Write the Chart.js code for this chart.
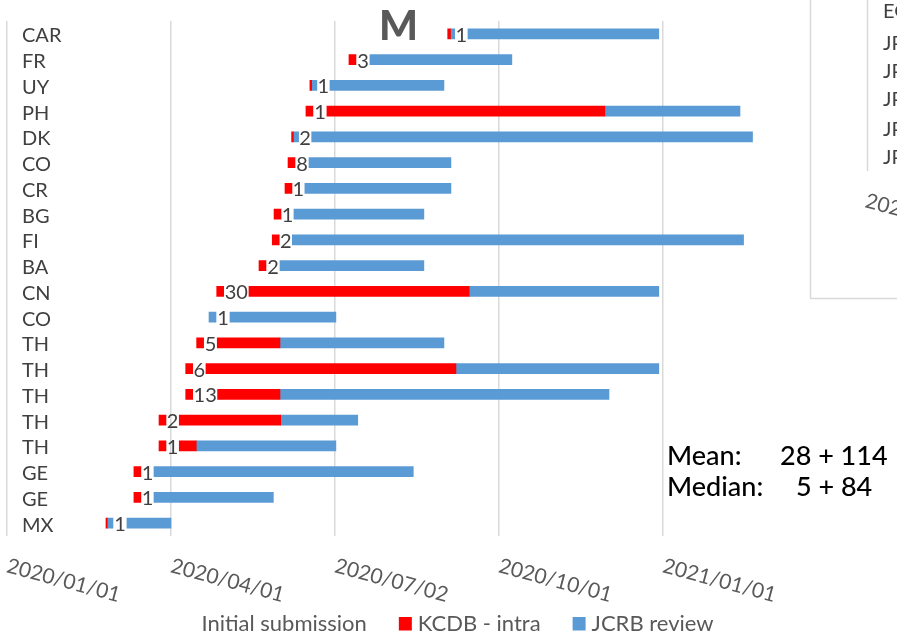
<!DOCTYPE html>
<html>
<head>
<meta charset="utf-8">
<script src="https://cdn.jsdelivr.net/npm/chart.js@4/dist/chart.umd.min.js"></script>
<style>
  html, body { margin: 0; padding: 0; background: #ffffff; overflow: hidden; }
  #wrap { position: relative; width: 897px; height: 641px; }
</style>
</head>
<body>
<div id="wrap"><canvas id="c" width="897" height="641"></canvas></div>
<script>
// ---- DATA (all dates are in days since 2020/01/01) ----
const categories = ['CAR','FR','UY','PH','DK','CO','CR','BG','FI','BA','CN','CO','TH','TH','TH','TH','TH','GE','GE','MX'];
const counts     = [1, 3, 1, 1, 2, 8, 1, 1, 2, 2, 30, 1, 5, 6, 13, 2, 1, 1, 1, 1];
const submitted  = [246.2, 191.1, 169.3, 167.1, 159.1, 157.1, 155.4, 149.3, 148.3, 140.9, 117.3, 113.0, 106.1, 100.0, 100.0, 85.1, 85.1, 71.1, 71.1, 55.5];
const keyRedShare = [0.4, 1, 0.25, 1, 0.25, 1, 1, 1, 1, 1, 1, 0, 1, 1, 1, 1, 1, 1, 1, 0.18];
const kcdbStart  = [257.5, 202.8, 180.5, 178.8, 170.3, 168.8, 166.5, 160.4, 159.5, 152.6, 135.3, 124.7, 117.6, 111.3, 117.8, 96.4, 96.4, 82.3, 82.3, 67.2];
const kcdbEnd    = [257.5, 202.8, 180.5, 333.9, 170.3, 168.8, 166.5, 160.4, 159.5, 152.6, 258.2, 124.7, 152.6, 250.8, 152.6, 153.0, 105.9, 82.3, 82.3, 67.2];
const jcrbEnd    = [364.0, 282.0, 244.1, 409.3, 416.3, 248.0, 248.0, 232.9, 411.3, 232.9, 364.0, 183.8, 244.1, 364.0, 336.2, 196.0, 183.8, 227.0, 148.9, 91.8];
const tickValues = [0, 91.5, 183, 274.5, 366];
const tickLabels = ['2020/01/01', '2020/04/01', '2020/07/02', '2020/10/01', '2021/01/01'];
const seriesNames = ['Initial submission', 'KCDB - intra', 'JCRB review'];
const statsLines = [['Mean:', '28 + 114'], ['Median:', '5 + 84']];
const titleText = 'M';
const sideLabels = ['EG', 'JP', 'JP', 'JP', 'JP', 'JP'];
const sideTick = '2020/01/01';

// ---- STYLE ----
const RED = '#FF0000', BLUE = '#5B9BD5', GRID = '#D9D9D9';
const FONT = 'Lato, "Open Sans", sans-serif';
const KEY_DAYS = 3.9;

const initialData = categories.map((c, i) => [submitted[i], kcdbStart[i]]);
const kcdbData = categories.map((c, i) => kcdbEnd[i] > kcdbStart[i] ? [kcdbStart[i], kcdbEnd[i]] : null);
const jcrbData = categories.map((c, i) => [kcdbEnd[i], jcrbEnd[i]]);
const keyRedData = categories.map((c, i) => keyRedShare[i] > 0 ? [submitted[i], submitted[i] + KEY_DAYS * keyRedShare[i]] : null);
const keyBlueData = categories.map((c, i) => keyRedShare[i] < 1 ? [submitted[i] + KEY_DAYS * keyRedShare[i], submitted[i] + KEY_DAYS] : null);

const overlay = {
  id: 'overlay',
  afterDraw(chart) {
    const { ctx, scales: { x, y }, chartArea } = chart;
    ctx.save();
    // counts between the key and the bar
    ctx.font = '20px ' + FONT;
    ctx.fillStyle = '#404040';
    ctx.textAlign = 'center';
    ctx.textBaseline = 'middle';
    categories.forEach((c, i) => {
      const x1 = x.getPixelForValue(submitted[i] + KEY_DAYS);
      const x2 = x.getPixelForValue(kcdbStart[i]);
      ctx.fillText(String(counts[i]), (x1 + x2) / 2, y.getPixelForValue(i) + 1.5);
    });
    // rotated date labels
    ctx.font = '21px ' + FONT;
    ctx.fillStyle = '#595959';
    ctx.textAlign = 'left';
    ctx.textBaseline = 'alphabetic';
    tickValues.forEach((v, k) => {
      const px = x.getPixelForValue(v);
      ctx.save();
      ctx.translate(px - 1, chartArea.bottom + 36);
      ctx.rotate(15 * Math.PI / 180);
      ctx.fillText(tickLabels[k], 0, 0);
      ctx.restore();
    });
    // title
    ctx.font = '900 41px ' + FONT;
    ctx.fillStyle = '#595959';
    ctx.textAlign = 'center';
    ctx.fillText(titleText, 398.5, 39.5);
    // stats
    ctx.font = '500 27px ' + FONT;
    ctx.fillStyle = '#000000';
    ctx.textAlign = 'left';
    ctx.fillText(statsLines[0][0], 667, 465);
    ctx.fillText(statsLines[0][1], 780, 465);
    ctx.fillText(statsLines[1][0], 667, 496);
    ctx.fillText(statsLines[1][1], 796, 496);
    // legend
    ctx.font = '22px ' + FONT;
    const colors = ['rgba(0,0,0,0)', RED, BLUE];
    const widths = seriesNames.map(s => ctx.measureText(s).width);
    const total = widths.reduce((a, w) => a + 13 + 6 + w, 0) + 32 * (seriesNames.length - 1);
    let lx = 448 - total / 2;
    seriesNames.forEach((s, k) => {
      ctx.fillStyle = colors[k];
      ctx.fillRect(lx, 617, 13, 13.5);
      ctx.fillStyle = '#595959';
      ctx.fillText(s, lx + 19, 631);
      lx += 19 + widths[k] + 32;
    });
    // fragment of the neighbouring chart at the right edge
    ctx.strokeStyle = GRID;
    ctx.lineWidth = 1.5;
    ctx.beginPath();
    ctx.moveTo(810.5, 0); ctx.lineTo(810.5, 298.5); ctx.lineTo(897, 298.5);
    ctx.moveTo(867.5, 0); ctx.lineTo(867.5, 171);
    ctx.stroke();
    ctx.font = '20px ' + FONT;
    ctx.fillStyle = '#404040';
    ctx.textBaseline = 'middle';
    const sideY = [12, 43.5, 71.5, 100, 129.5, 158];
    sideLabels.forEach((s, k) => ctx.fillText(s, 883, sideY[k]));
    ctx.textBaseline = 'alphabetic';
    ctx.font = '21px ' + FONT;
    ctx.fillStyle = '#595959';
    ctx.save();
    ctx.translate(864, 207);
    ctx.rotate(15 * Math.PI / 180);
    ctx.fillText(sideTick, 0, 0);
    ctx.restore();
    ctx.restore();
  }
};

function make() {
  new Chart(document.getElementById('c'), {
    type: 'bar',
    data: {
      labels: categories,
      datasets: [
        { label: seriesNames[0], data: initialData, backgroundColor: 'rgba(0,0,0,0)' },
        { label: seriesNames[1], data: kcdbData, backgroundColor: RED },
        { label: seriesNames[2], data: jcrbData, backgroundColor: BLUE },
        { label: 'key-red', data: keyRedData, backgroundColor: RED },
        { label: 'key-blue', data: keyBlueData, backgroundColor: BLUE }
      ]
    },
    options: {
      indexAxis: 'y',
      responsive: false,
      animation: false,
      devicePixelRatio: 1,
      layout: { padding: { left: 6.5, right: 102, top: 21, bottom: 105 } },
      datasets: { bar: { grouped: false, barThickness: 10, borderWidth: 0 } },
      plugins: { legend: { display: false }, tooltip: { enabled: false }, title: { display: false } },
      scales: {
        x: {
          type: 'linear', min: 0, max: 440,
          afterBuildTicks: s => { s.ticks = tickValues.map(v => ({ value: v })); },
          afterFit: s => { s.height = 0; s.paddingLeft = 0; s.paddingRight = 0; },
          grid: { color: GRID, lineWidth: 1.5, drawTicks: false },
          border: { display: false },
          ticks: { display: false }
        },
        y: {
          type: 'category',
          afterFit: s => { s.width = 0; s.paddingTop = 0; s.paddingBottom = 0; },
          grid: { display: false, drawTicks: false },
          border: { display: false },
          ticks: { mirror: true, autoSkip: false, padding: 15.5, labelOffset: 2, color: '#404040', font: { family: FONT, size: 20 } }
        }
      }
    },
    plugins: [overlay]
  });
}
const fontLoads = ['20px Lato', '900 41px Lato'].map(f => document.fonts.load(f));
Promise.all(fontLoads).then(make, make);
</script>
</body>
</html>
